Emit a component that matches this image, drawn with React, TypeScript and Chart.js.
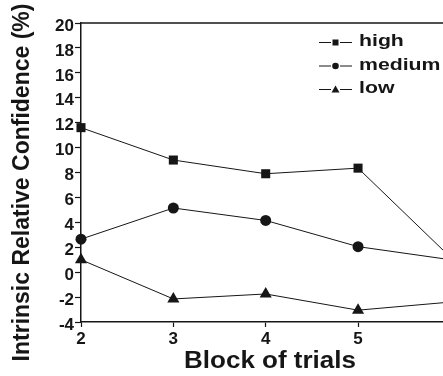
import React, { useEffect, useRef } from "react";
import { Chart, registerables } from "chart.js";

Chart.register(...registerables);

const blocks = [2, 3, 4, 5, 6];
const highValues = [11.6, 9.0, 7.9, 8.35, 1.2];
const mediumValues = [2.65, 5.15, 4.15, 2.05, 1.0];
const lowValues = [1.0, -2.15, -1.75, -3.05, -2.4];
const seriesLabels = ["high", "medium", "low"];
const xTitle = "Block of trials";
const yTitle = "Intrinsic Relative Confidence (%)";
const X_MIN = 2;
const X_MAX = 5.92;
const Y_MIN = -4;
const Y_MAX = 20;

const FONT = "'Liberation Sans', Arial, Helvetica, sans-serif";
const INK = "#161616";

function stretchedText(ctx: any, text: string, x: number, y: number, sx: number, align: string) {
  ctx.save();
  ctx.translate(x, y);
  ctx.scale(sx, 1);
  ctx.textAlign = align;
  ctx.fillText(text, 0, 0);
  ctx.restore();
}

const framePlugin = {
  id: "frameAndText",
  beforeDatasetsDraw(chart: any) {
    const { ctx, chartArea } = chart;
    ctx.save();
    ctx.strokeStyle = INK;
    ctx.lineWidth = 1.5;
    ctx.beginPath();
    ctx.moveTo(chartArea.left, chartArea.top);
    ctx.lineTo(chartArea.right + 2, chartArea.top);
    ctx.stroke();
    ctx.restore();
  },
  afterDraw(chart: any) {
    const { ctx, chartArea } = chart;
    ctx.save();
    ctx.fillStyle = INK;
    ctx.textBaseline = "middle";
    // axis titles
    ctx.font = `bold 23px ${FONT}`;
    stretchedText(ctx, xTitle, chartArea.left + 189, chartArea.bottom + 40, 1.13, "center");
    ctx.save();
    ctx.translate(23, (chartArea.top + chartArea.bottom) / 2 + 10);
    ctx.rotate(-Math.PI / 2);
    ctx.textAlign = "center";
    ctx.fillText(yTitle, 0, 0);
    ctx.restore();

    // legend
    const lx = chartArea.left + 238;
    const ly0 = chartArea.top + 19.5;
    const rowH = 23.5;
    chart.data.datasets.forEach((ds: any, i: number) => {
      const cy = ly0 + i * rowH;
      ctx.strokeStyle = INK;
      ctx.lineWidth = 1;
      ctx.beginPath();
      ctx.moveTo(lx, cy);
      ctx.lineTo(lx + 12, cy);
      ctx.moveTo(lx + 21, cy);
      ctx.lineTo(lx + 33, cy);
      ctx.stroke();
      ctx.fillStyle = INK;
      const mx = lx + 16.5;
      ctx.beginPath();
      if (ds.pointStyle === "rect") {
        ctx.rect(mx - 3, cy - 3, 6, 6);
      } else if (ds.pointStyle === "circle") {
        ctx.arc(mx, cy, 3.3, 0, Math.PI * 2);
      } else {
        ctx.moveTo(mx, cy - 4);
        ctx.lineTo(mx + 4, cy + 3);
        ctx.lineTo(mx - 4, cy + 3);
        ctx.closePath();
      }
      ctx.fill();
      ctx.font = `bold 17px ${FONT}`;
      stretchedText(ctx, ds.label, lx + 40, cy - 1, 1.25, "left");
    });
    ctx.restore();
  },
};

function makeSeries(values: number[]) {
  return blocks.map((b, i) => ({ x: b, y: values[i] }));
}

export default function App() {
  const canvasRef = useRef<HTMLCanvasElement | null>(null);

  useEffect(() => {
    const canvas = canvasRef.current;
    if (!canvas) return;
    const common = {
      borderColor: INK,
      backgroundColor: INK,
      pointBackgroundColor: INK,
      pointBorderColor: INK,
      borderWidth: 1,
      pointBorderWidth: 0,
      tension: 0,
      clip: false as const,
    };
    const chart = new Chart(canvas, {
      type: "line",
      data: {
        datasets: [
          { ...common, label: seriesLabels[0], data: makeSeries(highValues), pointStyle: "rect", pointRadius: 6.4 },
          { ...common, label: seriesLabels[1], data: makeSeries(mediumValues), pointStyle: "circle", pointRadius: 5.5 },
          { ...common, label: seriesLabels[2], data: makeSeries(lowValues), pointStyle: "triangle", pointRadius: 7 },
        ],
      },
      options: {
        animation: false,
        responsive: false,
        maintainAspectRatio: false,
        layout: { autoPadding: false, padding: { top: 23, right: 0, left: 0, bottom: 0 } },
        plugins: { legend: { display: false }, tooltip: { enabled: false } },
        scales: {
          x: {
            type: "linear",
            min: X_MIN,
            max: X_MAX,
            afterBuildTicks: (scale: any) => {
              scale.ticks = scale.ticks.filter((t: any) => Number.isInteger(t.value));
            },
            afterFit: (scale: any) => {
              scale.height = 54;
            },
            ticks: {
              stepSize: 1,
              color: INK,
              font: { family: FONT, size: 17, weight: "bold" },
              padding: 2,
              maxRotation: 0,
              autoSkip: false,
            },
            grid: { drawOnChartArea: false, tickLength: 5, tickColor: INK, tickWidth: 1.2 },
            border: { color: INK, width: 1.5 },
            title: { display: false },
          },
          y: {
            type: "linear",
            min: Y_MIN,
            max: Y_MAX,
            afterFit: (scale: any) => {
              scale.width = 81;
            },
            ticks: {
              stepSize: 2,
              color: INK,
              font: { family: FONT, size: 17, weight: "bold" },
              padding: 1,
              labelOffset: 3,
            },
            grid: { drawOnChartArea: false, tickLength: 6, tickColor: INK, tickWidth: 1.2 },
            border: { color: INK, width: 1.5 },
            title: { display: false },
          },
        },
      },
      plugins: [framePlugin],
    });
    return () => chart.destroy();
  }, []);

  return (
    <div style={{ position: "absolute", left: 0, top: 0, width: 443, height: 376, background: "#fff" }}>
      <canvas ref={canvasRef} width={443} height={376} style={{ display: "block" }} />
    </div>
  );
}
